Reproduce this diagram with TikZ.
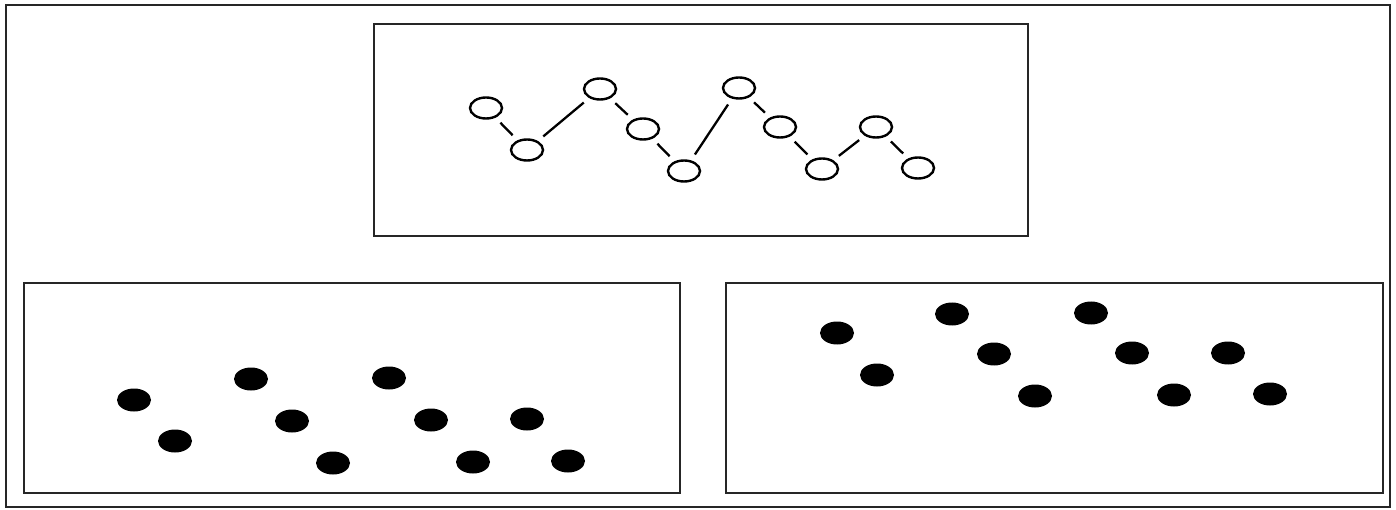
\documentclass[tikz,border=0pt]{standalone}
\usetikzlibrary{shapes.geometric}
\begin{document}
\begin{tikzpicture}[x=1pt,y=-1pt,
  frame/.style={draw=black!85,line width=1.6pt},
  openov/.style={ellipse,draw,line width=2.4pt,minimum width=32pt,minimum height=21pt,inner sep=0pt},
  fullov/.style={ellipse,fill=black,minimum width=34pt,minimum height=23pt,inner sep=0pt},
  link/.style={line width=2.3pt,shorten <=7pt,shorten >=7pt}]
\useasboundingbox (0,0) rectangle (1396,510);
\draw[frame] (6,5) rectangle (1390,507);
\draw[frame] (374,24) rectangle (1028,236);
\draw[frame] (24,283) rectangle (680,493);
\draw[frame] (726,283) rectangle (1383,493);
% top chain
\node[openov] (t1) at (486,108) {};
\node[openov] (t2) at (527,150) {};
\node[openov] (t3) at (600,89) {};
\node[openov] (t4) at (643,129) {};
\node[openov] (t5) at (684,171) {};
\node[openov] (t6) at (739,88) {};
\node[openov] (t7) at (780,127) {};
\node[openov] (t8) at (822,169) {};
\node[openov] (t9) at (876,127) {};
\node[openov] (t10) at (918,168) {};
\draw[link] (t1) -- (t2);
\draw[link] (t2) -- (t3);
\draw[link] (t3) -- (t4);
\draw[link] (t4) -- (t5);
\draw[link] (t5) -- (t6);
\draw[link] (t6) -- (t7);
\draw[link] (t7) -- (t8);
\draw[link] (t8) -- (t9);
\draw[link] (t9) -- (t10);
% bottom left
\node[fullov] (a1) at (134,400) {};
\node[fullov] (a2) at (175,441) {};
\node[fullov] (a3) at (251,379) {};
\node[fullov] (a4) at (292,421) {};
\node[fullov] (a5) at (333,463) {};
\node[fullov] (a6) at (389,378) {};
\node[fullov] (a7) at (431,420) {};
\node[fullov] (a8) at (473,462) {};
\node[fullov] (a9) at (527,419) {};
\node[fullov] (a10) at (568,461) {};
% bottom right
\node[fullov] (b1) at (837,333) {};
\node[fullov] (b2) at (877,375) {};
\node[fullov] (b3) at (952,314) {};
\node[fullov] (b4) at (994,354) {};
\node[fullov] (b5) at (1035,396) {};
\node[fullov] (b6) at (1091,313) {};
\node[fullov] (b7) at (1132,353) {};
\node[fullov] (b8) at (1174,395) {};
\node[fullov] (b9) at (1228,353) {};
\node[fullov] (b10) at (1270,394) {};
\end{tikzpicture}
\end{document}
